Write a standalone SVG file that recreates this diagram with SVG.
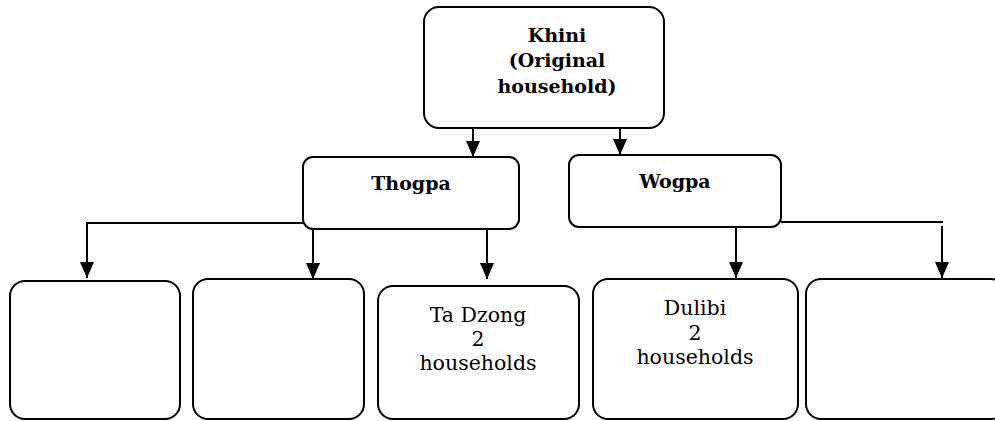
<svg xmlns="http://www.w3.org/2000/svg" width="995" height="421" viewBox="0 0 995 421">
<style>
.box{fill:#fff;stroke:#000;stroke-width:2}
.ln{fill:none;stroke:#000;stroke-width:2}
.b{font-family:"DejaVu Serif","Liberation Serif",serif;font-weight:bold;font-size:19px;text-anchor:middle;fill:#000}
.r{font-family:"DejaVu Serif","Liberation Serif",serif;font-size:20.5px;text-anchor:middle;fill:#000}
</style>
<defs>
<marker id="ah" viewBox="0 0 16 14" refX="16" refY="7" markerWidth="16" markerHeight="14" markerUnits="userSpaceOnUse" orient="auto">
<path d="M0,0 L16,7 L0,14 z" fill="#000"/>
</marker>
</defs>
<rect width="995" height="421" fill="#fff"/>
<g id="connectors">
<path class="ln" d="M473,128 L473,157" marker-end="url(#ah)"/>
<path class="ln" d="M620,128 L620,155" marker-end="url(#ah)"/>
<path class="ln" d="M303,223 L87,223 L87,278" marker-end="url(#ah)"/>
<path class="ln" d="M313,229 L313,279" marker-end="url(#ah)"/>
<path class="ln" d="M487,229 L487,279" marker-end="url(#ah)"/>
<path class="ln" d="M736,227 L736,278" marker-end="url(#ah)"/>
<path class="ln" d="M781,222 L943,222"/>
<path class="ln" d="M942,226 L942,278" marker-end="url(#ah)"/>
</g>
<g id="khini">
<rect class="box" x="424" y="7" width="240" height="121" rx="15"/>
<text class="b" x="557" y="42">Khini</text>
<text class="b" x="557" y="67">(Original</text>
<text class="b" x="557" y="93">household)</text>
</g>
<g id="thogpa">
<rect class="box" x="303" y="157" width="216" height="72" rx="10"/>
<text class="b" x="411" y="190">Thogpa</text>
</g>
<g id="wogpa">
<rect class="box" x="569" y="155" width="212" height="72" rx="10"/>
<text class="b" x="675" y="188">Wogpa</text>
</g>
<g id="child1">
<rect class="box" x="10" y="281" width="170" height="138" rx="15"/>
</g>
<g id="child2">
<rect class="box" x="193" y="279" width="171" height="140" rx="15"/>
</g>
<g id="tadzong">
<rect class="box" x="378" y="286" width="201" height="133" rx="15"/>
<text class="r" x="478" y="322">Ta Dzong</text>
<text class="r" x="478" y="346">2</text>
<text class="r" x="478" y="370">households</text>
</g>
<g id="dulibi">
<rect class="box" x="593" y="279" width="205" height="140" rx="15"/>
<text class="r" x="695" y="315">Dulibi</text>
<text class="r" x="695" y="340">2</text>
<text class="r" x="695" y="364">households</text>
</g>
<g id="child5">
<rect class="box" x="806" y="279" width="200" height="140" rx="15"/>
</g>
</svg>
